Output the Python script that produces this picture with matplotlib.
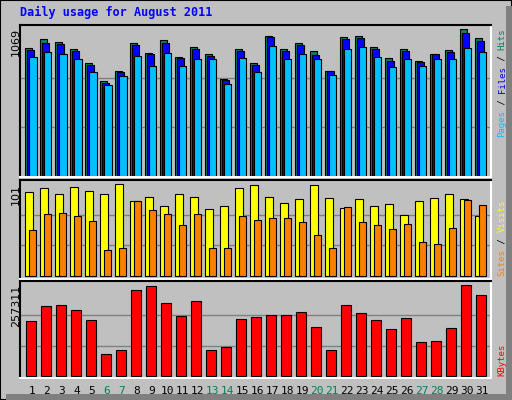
import matplotlib
matplotlib.use("Agg")
import matplotlib.pyplot as plt
import numpy as np

days = list(range(1, 32))
weekends = [6, 7, 13, 14, 20, 21, 27, 28]

hits = [931, 996, 974, 923, 822, 691, 763, 967, 894, 989, 865, 938, 887, 705, 923, 822,
        1018, 923, 967, 909, 763, 1011, 1018, 938, 858, 923, 836, 887, 916, 1069, 1003]
files = [916, 967, 960, 909, 807, 676, 756, 952, 887, 967, 858, 923, 873, 698, 909, 807,
         1011, 909, 952, 880, 763, 996, 1003, 923, 836, 909, 829, 887, 902, 1040, 982]
pages = [865, 902, 887, 851, 756, 662, 727, 873, 800, 894, 800, 851, 851, 669, 858, 756,
         945, 851, 887, 851, 734, 923, 938, 865, 793, 851, 800, 851, 851, 931, 902]
visits = [92, 97, 90, 98, 93, 90, 101, 82, 87, 77, 90, 87, 74, 77, 97, 100,
          87, 80, 85, 100, 86, 75, 85, 77, 79, 67, 82, 86, 90, 85, 66]
sites = [51, 68, 69, 66, 60, 29, 31, 82, 72, 68, 56, 68, 31, 31, 66, 61,
         64, 64, 59, 45, 31, 76, 59, 56, 52, 57, 37, 35, 53, 83, 78]
kbytes = [155500, 198000, 201000, 187000, 158000, 62000, 74000, 243000, 255000, 206000,
          170000, 212000, 74000, 82000, 161000, 167000, 173000, 173000, 181000, 139000,
          74000, 201000, 178000, 158000, 133000, 164000, 96000, 99000, 136000, 257311, 229000]

BG = "#C0C0C0"
W, H = 512, 400
fig = plt.figure(figsize=(5.12, 4), dpi=100, facecolor=BG)
MONO = "DejaVu Sans Mono"

# outer frame with shadow
fig.patches.append(plt.Rectangle((0, 0), 1, 1, transform=fig.transFigure,
                                 fill=False, ec="black", lw=1.5))
fig.patches.append(plt.Rectangle((1 - 6 / W, 0), 6 / W, 1 - 6 / H, transform=fig.transFigure,
                                 fc="#808080", ec="none"))
fig.patches.append(plt.Rectangle((6 / W, 0), 1, 6 / H, transform=fig.transFigure,
                                 fc="#808080", ec="none"))


def panel(y1, y2):
    ax = fig.add_axes([20 / W, 1 - y2 / H, 471 / W, (y2 - y1) / H])
    ax.set_facecolor(BG)
    ax.set_xlim(0.5, 31.9)
    ax.set_xticks([])
    ax.set_yticks([])
    ax.spines["left"].set_color("black")
    ax.spines["top"].set_color("black")
    ax.spines["right"].set_color("white")
    ax.spines["bottom"].set_color("white")
    for s in ax.spines.values():
        s.set_linewidth(1.5)
    return ax


x = np.array(days)

ax1 = panel(25, 177)
ax1.set_ylim(-7, 1098)
for g in (1069 / 3, 2 * 1069 / 3):
    ax1.axhline(g, color="#808080", lw=1, zorder=0)
ax1.bar(x - 0.17, hits, width=0.5, align="edge", color="#00805C", ec="black", lw=0.8)
ax1.bar(x - 0.04, files, width=0.5, align="edge", color="#0000FF", ec="black", lw=0.8)
ax1.bar(x + 0.11, pages, width=0.49, align="edge", color="#00C0FF", ec="black", lw=0.8)

ax2 = panel(180, 279)
ax2.set_ylim(-3.3, 105.4)
for g in (101 / 3, 2 * 101 / 3):
    ax2.axhline(g, color="#808080", lw=1, zorder=0)
ax2.bar(x - 0.17, visits, width=0.53, align="edge", color="#FFFF00", ec="black", lw=0.8)
ax2.bar(x + 0.09, sites, width=0.46, align="edge", color="#FF8000", ec="black", lw=0.8)

ax3 = panel(281, 378)
ax3.set_ylim(-5600, 268700)
for g in (257311 / 3, 2 * 257311 / 3):
    ax3.axhline(g, color="#808080", lw=1, zorder=0)
ax3.bar(x - 0.1, kbytes, width=0.66, align="edge", color="#FF0000", ec="black", lw=0.8)

# day labels
for d in days:
    ax3.text(d + 0.3, -0.08, str(d), transform=ax3.get_xaxis_transform(),
             ha="center", va="top", fontsize=8, family=MONO,
             color="#00805C" if d in weekends else "black")


def ftext(px, py, s, **kw):
    fig.text(px / W, 1 - py / H, s, **kw)


ftext(20, 12, "Daily usage for August 2011", color="#0000FF", fontsize=8.5,
      fontweight="bold", family=MONO, va="center")
ftext(16, 28, "1069", rotation=90, ha="center", va="top", fontsize=8, family="DejaVu Sans")
ftext(16, 184, "101", rotation=90, ha="center", va="top", fontsize=8, family="DejaVu Sans")
ftext(16, 285, "257311", rotation=90, ha="center", va="top", fontsize=8, family="DejaVu Sans")


def vlabel(ybottom, parts):
    step = 5.45
    y = ybottom
    for s, c in parts:
        ftext(502, y, s, rotation=90, ha="center", va="bottom", fontsize=6.5,
              family=MONO, color=c)
        y -= step * len(s)


vlabel(137, [("Pages", "#00C0FF"), (" / ", "black"), ("Files", "#0000FF"),
             (" / ", "black"), ("Hits", "#00805C")])
vlabel(276, [("Sites", "#FF8000"), (" / ", "black"), ("Visits", "#FFFF00")])
vlabel(376, [("KBytes", "#FF0000")])

fig.savefig("out.png", dpi=100, facecolor=BG)
